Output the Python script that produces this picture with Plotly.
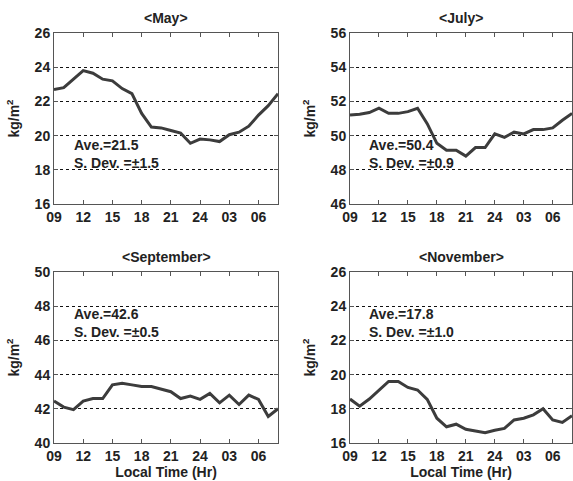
import plotly.graph_objects as go

hours = list(range(9, 33))
tick_vals = [9, 12, 15, 18, 21, 24, 27, 30]
tick_text = ["09", "12", "15", "18", "21", "24", "03", "06"]

may = [22.7, 22.8, 23.3, 23.8, 23.65, 23.3, 23.2, 22.75, 22.45, 21.3, 20.5, 20.45,
       20.3, 20.15, 19.55, 19.8, 19.75, 19.65, 20.05, 20.2, 20.55, 21.2, 21.75, 22.45]
july = [51.2, 51.25, 51.35, 51.6, 51.3, 51.3, 51.4, 51.6, 50.7, 49.55, 49.15, 49.15,
        48.8, 49.3, 49.3, 50.1, 49.9, 50.2, 50.1, 50.35, 50.35, 50.45, 50.9, 51.3]
september = [42.45, 42.1, 41.95, 42.45, 42.6, 42.6, 43.4, 43.5, 43.4, 43.3, 43.3, 43.15,
             43.0, 42.6, 42.75, 42.55, 42.9, 42.35, 42.8, 42.25, 42.8, 42.55, 41.55, 42.0]
november = [18.57, 18.15, 18.57, 19.1, 19.6, 19.6, 19.25, 19.1, 18.55, 17.45, 16.95, 17.1,
            16.8, 16.7, 16.6, 16.75, 16.85, 17.35, 17.45, 17.65, 18.0, 17.35, 17.2, 17.6]

titles = ["&lt;May&gt;", "&lt;July&gt;", "&lt;September&gt;", "&lt;November&gt;"]
y_ranges = [[16, 26], [46, 56], [40, 50], [16, 26]]
ave_labels = ["Ave.=21.5", "Ave.=50.4", "Ave.=42.6", "Ave.=17.8"]
sdev_labels = ["S. Dev. =±1.5", "S. Dev. =±0.9", "S. Dev. =±0.5", "S. Dev. =±1.0"]
label_mid_y = [18.92, 48.92, 47.02, 23.02]
series = [may, july, september, november]

W, H = 573, 481
xdoms = [[54 / W, 278 / W], [350 / W, 572 / W]]
ydoms = [[(H - 204) / H, (H - 33) / H], [(H - 443) / H, (H - 272) / H]]

FONT = "Liberation Sans, Arial, sans-serif"
FS = 14
LINE = "#3c3c3c"
TXT = "#222"

fig = go.Figure()
layout = dict(width=W, height=H, margin=dict(l=0, r=0, t=0, b=0, autoexpand=False),
              template="none",
              paper_bgcolor="white", plot_bgcolor="white", showlegend=False,
              font=dict(family=FONT, size=FS, color=TXT))
annotations = []
for i in range(4):
    r, c = divmod(i, 2)
    xa = "xaxis" if i == 0 else f"xaxis{i+1}"
    ya = "yaxis" if i == 0 else f"yaxis{i+1}"
    xr = "x" if i == 0 else f"x{i+1}"
    yr = "y" if i == 0 else f"y{i+1}"
    fig.add_trace(go.Scatter(x=hours, y=series[i], mode="lines",
                             line=dict(color=LINE, width=3), xaxis=xr, yaxis=yr))
    layout[xa] = dict(domain=xdoms[c], anchor=yr, range=[9, 32], tickvals=tick_vals,
                      ticktext=tick_text, showgrid=False, zeroline=False, automargin=False,
                      showline=True, linecolor="#555", linewidth=1, mirror="ticks",
                      ticks="inside", ticklen=4, tickcolor="#555",
                      tickfont=dict(family=FONT, size=FS, color=TXT, weight="bold"))
    if r == 1:
        layout[xa]["title"] = dict(text="<b>Local Time (Hr)</b>", standoff=3,
                                   font=dict(family=FONT, size=FS, color=TXT))
    lo, hi = y_ranges[i]
    layout[ya] = dict(domain=ydoms[r], anchor=xr, range=[lo, hi], dtick=2,
                      showgrid=True, gridcolor="#111", griddash="3px,3px", gridwidth=1,
                      zeroline=False, showline=True, linecolor="#555", linewidth=1,
                      automargin=False,
                      mirror="ticks", ticks="inside", ticklen=4, tickcolor="#555",
                      tickfont=dict(family=FONT, size=FS, color=TXT, weight="bold"),
                      title=dict(text="<b>kg/m<sup>2</sup></b>", standoff=11,
                                 font=dict(family=FONT, size=FS, color=TXT)))
    annotations.append(dict(text=f"<b>{titles[i]}</b>", xref="paper", yref="paper",
                            x=sum(xdoms[c]) / 2, y=ydoms[r][1] + 15 / H,
                            xanchor="center", yanchor="middle", showarrow=False,
                            font=dict(family=FONT, size=FS, color=TXT)))
    for txt, anch in ((ave_labels[i], "bottom"), (sdev_labels[i], "top")):
        annotations.append(dict(text=f"<b>{txt}</b>", xref=xr, yref=yr,
                                x=10.9, y=label_mid_y[i], xanchor="left", yanchor=anch,
                                align="left", showarrow=False, borderpad=0,
                                font=dict(family=FONT, size=FS, color=TXT)))
layout["annotations"] = annotations
fig.update_layout(**layout)
fig.write_html("out.html", config={"displayModeBar": False},
               post_script="document.body.style.margin='0';")
